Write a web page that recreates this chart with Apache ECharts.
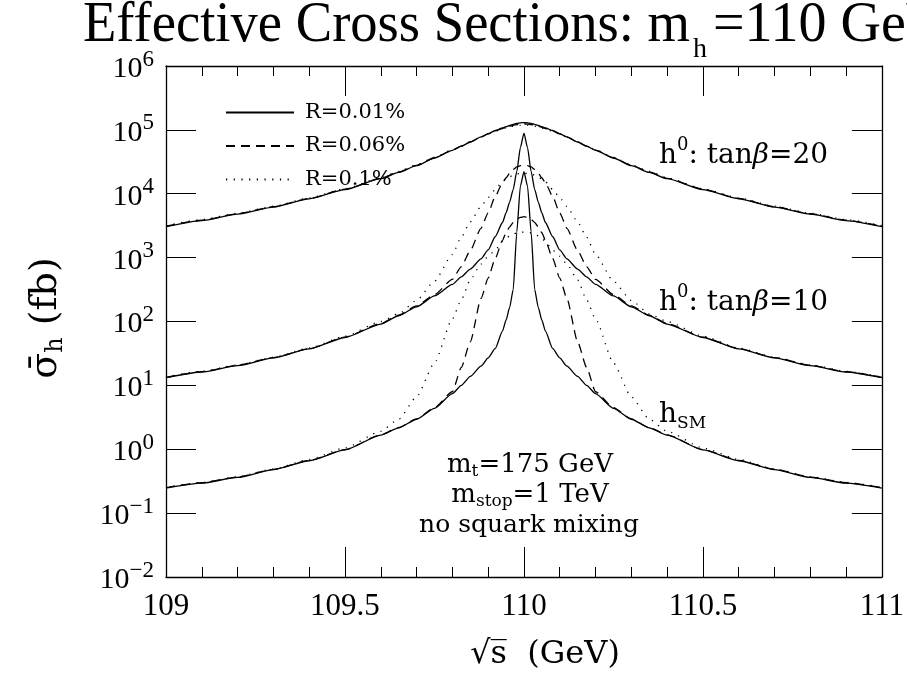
<!DOCTYPE html>
<html><head><meta charset="utf-8">
<script src="https://cdn.jsdelivr.net/npm/echarts@6/dist/echarts.min.js"></script>
<style>html,body{margin:0;padding:0;background:#fff}#c{width:907px;height:686px}</style>
</head><body><div id="c"></div>
<script>
// sqrt(s) in GeV
const xGrid = [109, 109.1, 109.2, 109.3, 109.4, 109.5, 109.6, 109.65, 109.7, 109.75, 109.8, 109.825, 109.85, 109.88, 109.9, 109.92, 109.94, 109.95, 109.96, 109.97, 109.98, 109.99,
  110,
  110.01, 110.02, 110.03, 110.04, 110.05, 110.06, 110.08, 110.1, 110.12, 110.15, 110.175, 110.2, 110.25, 110.3, 110.35, 110.4, 110.5, 110.6, 110.7, 110.8, 110.9, 111];

// h0 tan(beta)=20
const tb20_R001 = [3050, 3800, 4790, 6170, 8320, 11600, 17200, 21600, 27500, 36300, 47900, 55600, 64600, 77600, 87100, 97700, 107000, 112000, 117000, 122000, 126000, 129000, 130000, 129000, 126000, 122000, 117000, 112000, 107000, 97700, 87100, 77600, 64600, 55600, 47900, 36300, 27500, 21600, 17200, 11600, 8320, 6170, 4790, 3800, 3050];
const tb20_R006 = [3100, 3860, 4860, 6270, 8450, 11800, 17400, 21900, 27900, 36600, 48100, 55700, 64600, 77300, 86500, 96600, 105000, 110000, 114000, 117500, 121000, 123000, 124000, 123000, 121000, 117500, 114000, 110000, 105000, 96600, 86500, 77300, 64600, 55700, 48100, 36600, 27900, 21900, 17400, 11800, 8450, 6270, 4860, 3860, 3100];
const tb20_R01 = [3160, 3940, 4950, 6380, 8610, 12000, 17800, 22400, 28300, 37200, 48800, 56200, 64900, 77300, 86100, 95500, 103500, 107000, 111000, 114000, 116000, 118000, 119000, 118000, 116000, 114000, 111000, 107000, 103500, 95500, 86100, 77300, 64900, 56200, 48800, 37200, 28300, 22400, 17800, 12000, 8610, 6380, 4950, 3940, 3160];

// h0 tan(beta)=10
const tb10_R001 = [13.2, 16.2, 20.4, 26.9, 37.2, 56.2, 91.2, 123, 170, 251, 380, 501, 661, 955, 1320, 2140, 3550, 5010, 7410, 11700, 22400, 52500, 89100, 52500, 22400, 11700, 7410, 5010, 3550, 2140, 1320, 955, 661, 501, 380, 251, 170, 123, 91.2, 56.2, 37.2, 26.9, 20.4, 16.2, 13.2];
const tb10_R006 = [13.3, 16.4, 20.7, 27.2, 37.6, 56.9, 92.7, 126, 176, 263, 457, 724, 1290, 2880, 5010, 9120, 14800, 17800, 20900, 24000, 26300, 27500, 28200, 27500, 26300, 24000, 20900, 17800, 14800, 9120, 5010, 2880, 1290, 724, 457, 263, 176, 126, 92.7, 56.9, 37.6, 27.2, 20.7, 16.4, 13.3];
const tb10_R01 = [13.5, 16.6, 20.9, 27.5, 38.5, 58.9, 100, 132, 214, 427, 1120, 2090, 3630, 6310, 8710, 11700, 15500, 17000, 18400, 19500, 20400, 20900, 20900, 20900, 20400, 19500, 18400, 17000, 15500, 11700, 8710, 6310, 3630, 2090, 1120, 427, 214, 132, 100, 58.9, 38.5, 27.5, 20.9, 16.6, 13.5];

// h_SM
const sm_R001 = [0.247, 0.295, 0.363, 0.479, 0.661, 0.977, 1.66, 2.16, 2.95, 4.37, 7.41, 10.0, 13.8, 20.0, 26.9, 38.0, 70.8, 105, 166, 316, 2510, 13200, 22100, 13200, 2510, 316, 166, 105, 70.8, 38.0, 26.9, 20.0, 13.8, 10.0, 7.41, 4.37, 2.95, 2.16, 1.66, 0.977, 0.661, 0.479, 0.363, 0.295, 0.247];
const sm_R006 = [0.251, 0.299, 0.367, 0.484, 0.668, 0.989, 1.68, 2.19, 2.99, 4.47, 7.94, 19.1, 47.9, 229, 479, 977, 1860, 2450, 3020, 3550, 3980, 4270, 4370, 4270, 3980, 3550, 3020, 2450, 1860, 977, 479, 229, 47.9, 19.1, 7.94, 4.47, 2.99, 2.19, 1.68, 0.989, 0.668, 0.484, 0.367, 0.299, 0.251];
const sm_R01 = [0.254, 0.302, 0.372, 0.490, 0.692, 1.05, 1.91, 2.95, 6.61, 22.4, 110, 219, 447, 794, 1050, 1320, 1780, 2000, 2190, 2340, 2450, 2510, 2510, 2510, 2450, 2340, 2190, 2000, 1780, 1320, 1050, 794, 447, 219, 110, 22.4, 6.61, 2.95, 1.91, 1.05, 0.692, 0.490, 0.372, 0.302, 0.254];

const legendNames = ['R=0.01%', 'R=0.06%', 'R=0.1%'];
const xTickLabels = ['109', '109.5', '110', '110.5', '111'];

const groups = [
  [tb20_R001, tb20_R006, tb20_R01],
  [tb10_R001, tb10_R006, tb10_R01],
  [sm_R001, sm_R006, sm_R01]
];
const dashStyles = ['solid', [9, 6], [1.2, 6.5]];

const series = [];
groups.forEach(g => g.forEach((vals, k) => {
  series.push({
    type: 'line', name: legendNames[k],
    data: xGrid.map((x, i) => [x, vals[i]]),
    symbol: 'none', showSymbol: false,
    smooth: 0.2, smoothMonotone: 'x',
    lineStyle: { color: '#000', width: 1.3, type: dashStyles[k] },
    itemStyle: { color: '#000' },
    emphasis: { disabled: true }, silent: true, animation: false
  });
}));

const SERIF = 'DejaVu Serif';
const TIMES = 'Liberation Serif';

const tickCommon = {
  axisLine: { show: true, lineStyle: { color: '#000', width: 1.3 } },
  splitLine: { show: false }, minorSplitLine: { show: false }
};

const chart = echarts.init(document.getElementById('c'), null, { renderer: 'canvas' });
chart.setOption({
  backgroundColor: '#fff',
  animation: false,
  grid: { left: 166, right: 24, top: 66, bottom: 109, containLabel: false },
  legend: {
    data: legendNames, orient: 'vertical', left: 220, top: 97,
    itemWidth: 68, itemHeight: 14, itemGap: 12.5, selectedMode: false,
    itemStyle: { opacity: 0, borderWidth: 0 },
    textStyle: { fontFamily: SERIF, fontSize: 21, color: '#000', lineHeight: 14, padding: [0, 0, 0, 6] }
  },
  xAxis: [
    Object.assign({
      type: 'value', min: 109, max: 111, interval: 0.5, position: 'bottom',
      axisTick: { show: true, inside: true, length: 30, lineStyle: { color: '#000', width: 1 } },
      minorTick: { show: true, splitNumber: 5, length: 10, lineStyle: { color: '#000', width: 1 } },
      axisLabel: { fontFamily: TIMES, fontSize: 31, color: '#000', margin: 14,
        formatter: v => xTickLabels[Math.round((v - 109) / 0.5)] }
    }, tickCommon),
    Object.assign({
      type: 'value', min: 109, max: 111, interval: 0.5, position: 'top',
      axisTick: { show: true, inside: true, length: 30, lineStyle: { color: '#000', width: 1 } },
      minorTick: { show: true, splitNumber: 5, length: 10, lineStyle: { color: '#000', width: 1 } },
      axisLabel: { show: false }
    }, tickCommon)
  ],
  yAxis: [
    Object.assign({
      type: 'log', logBase: 10, min: 0.01, max: 1e6, splitNumber: 8, position: 'left',
      axisTick: { show: true, inside: true, length: 30, lineStyle: { color: '#000', width: 1 } },
      axisLabel: {
        margin: 12, color: '#000',
        formatter: v => {
          const e = Math.round(Math.log10(v));
          return '{b|10}{s|' + (e < 0 ? '\u2212' + (-e) : String(e)) + '}';
        },
        rich: {
          b: { fontFamily: TIMES, fontSize: 30, lineHeight: 36, verticalAlign: 'bottom', color: '#000' },
          s: { fontFamily: TIMES, fontSize: 23, lineHeight: 22, verticalAlign: 'top', color: '#000' }
        }
      }
    }, tickCommon),
    Object.assign({
      type: 'log', logBase: 10, min: 0.01, max: 1e6, splitNumber: 8, position: 'right',
      axisTick: { show: true, inside: true, length: 30, lineStyle: { color: '#000', width: 1 } },
      axisLabel: { show: false }
    }, tickCommon)
  ],
  series: series,
  graphic: [
    { type: 'text', x: 83, y: 26, scaleX: 0.975, silent: true,
      style: { text: 'Effective Cross Sections: m', verticalAlign: 'middle', align: 'left', fill: '#000',
        fontFamily: TIMES, fontSize: 56 } },
    { type: 'text', x: 693, y: 50, silent: true,
      style: { text: 'h', verticalAlign: 'middle', align: 'left', fill: '#000',
        fontFamily: TIMES, fontSize: 28 } },
    { type: 'text', x: 713, y: 26, silent: true,
      style: { text: '=110 GeV', verticalAlign: 'middle', align: 'left', fill: '#000',
        fontFamily: TIMES, fontSize: 56 } },
    { type: 'text', x: 659, y: 153, silent: true,
      style: { text: '{n|h}{p|0}{n|: tan}{i|β}{n|=20}', verticalAlign: 'middle', align: 'left', fill: '#000',
        rich: { n: { fontFamily: SERIF, fontSize: 28, lineHeight: 34, verticalAlign: 'bottom' },
                i: { fontFamily: SERIF, fontStyle: 'italic', fontSize: 28, lineHeight: 34, verticalAlign: 'bottom' },
                p: { fontFamily: SERIF, fontSize: 18, lineHeight: 18, verticalAlign: 'top' } } } },
    { type: 'text', x: 659, y: 300, silent: true,
      style: { text: '{n|h}{p|0}{n|: tan}{i|β}{n|=10}', verticalAlign: 'middle', align: 'left', fill: '#000',
        rich: { n: { fontFamily: SERIF, fontSize: 28, lineHeight: 34, verticalAlign: 'bottom' },
                i: { fontFamily: SERIF, fontStyle: 'italic', fontSize: 28, lineHeight: 34, verticalAlign: 'bottom' },
                p: { fontFamily: SERIF, fontSize: 18, lineHeight: 18, verticalAlign: 'top' } } } },
    { type: 'text', x: 659, y: 415, silent: true,
      style: { text: '{n|h}{b|SM}', verticalAlign: 'middle', align: 'left', fill: '#000',
        rich: { n: { fontFamily: SERIF, fontSize: 28, lineHeight: 34, verticalAlign: 'middle' },
                b: { fontFamily: SERIF, fontSize: 17, lineHeight: 20, verticalAlign: 'bottom' } } } },
    { type: 'text', x: 530, y: 465, silent: true,
      style: { text: '{n|m}{b|t}{n|=175 GeV}', verticalAlign: 'middle', align: 'center', fill: '#000',
        rich: { n: { fontFamily: SERIF, fontSize: 26, lineHeight: 30, verticalAlign: 'middle' },
                b: { fontFamily: SERIF, fontSize: 17, lineHeight: 14, verticalAlign: 'bottom' } } } },
    { type: 'text', x: 530, y: 495, silent: true,
      style: { text: '{n|m}{b|stop}{n|=1 TeV}', verticalAlign: 'middle', align: 'center', fill: '#000',
        rich: { n: { fontFamily: SERIF, fontSize: 26, lineHeight: 30, verticalAlign: 'middle' },
                b: { fontFamily: SERIF, fontSize: 17, lineHeight: 14, verticalAlign: 'bottom' } } } },
    { type: 'text', x: 529, y: 525, silent: true,
      style: { text: 'no squark mixing', verticalAlign: 'middle', align: 'center', fill: '#000',
        fontFamily: SERIF, fontSize: 25 } },
    { type: 'text', x: 545, y: 655, silent: true,
      style: { text: '\u221As\u0305  (GeV)', verticalAlign: 'middle', align: 'center', fill: '#000',
        fontFamily: SERIF, fontSize: 32 } },
    { type: 'text', x: 46, y: 318, rotation: Math.PI / 2, silent: true,
      style: { text: '{a|\u03C3\u0304}{s|h}{a| (fb)}', verticalAlign: 'middle', align: 'center', fill: '#000',
        rich: { a: { fontFamily: SERIF, fontSize: 38, lineHeight: 44, verticalAlign: 'middle' },
                s: { fontFamily: SERIF, fontSize: 24, lineHeight: 18, verticalAlign: 'bottom' } } } }
  ]
});
</script></body></html>
